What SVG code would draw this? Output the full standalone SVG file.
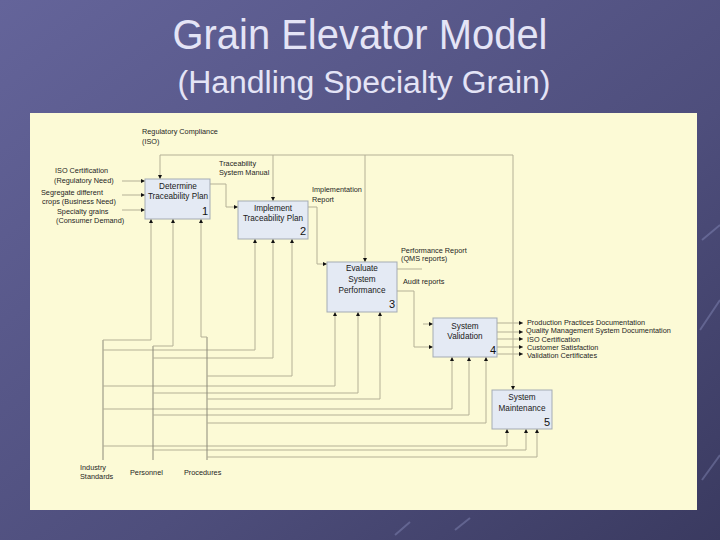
<svg xmlns="http://www.w3.org/2000/svg" width="720" height="540" viewBox="0 0 720 540">
<defs>
<linearGradient id="bg" x1="0" y1="0" x2="1" y2="1">
<stop offset="0" stop-color="#64649a"/>
<stop offset="0.6" stop-color="#4e4e7c"/>
<stop offset="1" stop-color="#3a3a60"/>
</linearGradient>
<marker id="ah" viewBox="0 0 6 6" refX="6" refY="3" markerWidth="4" markerHeight="4" markerUnits="userSpaceOnUse" orient="auto">
<path d="M0,0 L6,3 L0,6 z" fill="#111"/>
</marker>
</defs>
<style>
.title{font-family:"Liberation Sans",Arial,sans-serif;fill:#e4e4f6}
.lbl{font-family:"Liberation Sans",Arial,sans-serif;font-size:7.3px;fill:#1e1e1e}
.bt{font-family:"Liberation Sans",Arial,sans-serif;font-size:8.2px;fill:#202020;text-anchor:middle}
.num{font-family:"Liberation Sans",Arial,sans-serif;font-size:11px;fill:#111;text-anchor:end}
.box{fill:#e4eaf4;stroke:#a4abb4;stroke-width:1}
.c{fill:none;stroke:#b4b096;stroke-width:1}
.m{fill:none;stroke:#8c8a7a;stroke-width:1}
.a{marker-end:url(#ah)}
</style>
<rect x="0" y="0" width="720" height="540" fill="url(#bg)"/>
<g opacity="0.35" stroke="#9aa0d0" stroke-width="2" fill="none">
<path d="M702,240 L720,225"/>
<path d="M700,330 L720,300"/>
<path d="M702,480 L720,455"/>
<path d="M395,535 L410,522"/>
<path d="M455,530 L470,518"/>
</g>
<text class="title" x="360" y="49" font-size="42" text-anchor="middle" textLength="375" lengthAdjust="spacingAndGlyphs">Grain Elevator Model</text>
<text class="title" x="364" y="93" font-size="31" text-anchor="middle" textLength="373" lengthAdjust="spacingAndGlyphs">(Handling Specialty Grain)</text>
<rect x="30" y="113" width="667" height="397" fill="#fcfad6"/>

<g id="connectors">
<!-- controls: Regulatory Compliance -->
<path class="c" d="M160,155 H513"/>
<path class="c a" d="M160,155 V179"/>
<path class="c a" d="M273,155 V201"/>
<path class="c a" d="M365,155 V262"/>
<path class="c a" d="M513,155 V390"/>
<!-- inputs box1 -->
<path class="c a" d="M122,181 H145"/>
<path class="c a" d="M122,195 H145"/>
<path class="c a" d="M122,210 H145"/>
<!-- box1 to box2 -->
<path class="c a" d="M210,184 H226 V207 H238"/>
<!-- box2 to box3 -->
<path class="c a" d="M308,207 H317 V264 H327"/>
<!-- box3 outputs -->
<path class="c" d="M397,269 H422"/>
<path class="c a" d="M397,291 H414 V347 H433"/>
<path class="c a" d="M423,324 H433"/>
<!-- box4 outputs -->
<path class="c a" d="M497,323 H523"/>
<path class="c a" d="M497,332 H523"/>
<path class="c a" d="M497,339 H523"/>
<path class="c a" d="M497,347 H523"/>
<path class="c a" d="M497,354 H523"/>
<!-- mechanisms: Industry Standards -->
<path class="m" d="M103,460 V340"/>
<path class="c a" d="M103,340 H151 V219"/>
<path class="c a" d="M103,350 H255 V239"/>
<path class="c a" d="M103,386 H335 V312"/>
<path class="c a" d="M103,409 H452 V357"/>
<path class="c a" d="M103,446 H507 V429"/>
<!-- Personnel -->
<path class="m" d="M153,460 V346"/>
<path class="c a" d="M153,346 H173 V219"/>
<path class="c a" d="M153,358 H273 V239"/>
<path class="c a" d="M153,393 H358 V312"/>
<path class="c a" d="M153,415 H469 V357"/>
<path class="c a" d="M153,450 H526 V429"/>
<!-- Procedures -->
<path class="m" d="M207,460 V337"/>
<path class="c a" d="M207,337 H201 V219"/>
<path class="c a" d="M207,376 H292 V239"/>
<path class="c a" d="M207,399 H380 V312"/>
<path class="c a" d="M207,423 H486 V357"/>
<path class="c a" d="M207,457 H537 V429"/>
</g>

<g id="box1">
<rect class="box" x="145" y="179" width="65" height="40"/>
<text class="bt" x="178" y="189">Determine</text>
<text class="bt" x="178" y="199">Traceability Plan</text>
<text class="num" x="208" y="215">1</text>
</g>
<g id="box2">
<rect class="box" x="238" y="201" width="70" height="38"/>
<text class="bt" x="273" y="211">Implement</text>
<text class="bt" x="273" y="221">Traceability Plan</text>
<text class="num" x="306" y="235">2</text>
</g>
<g id="box3">
<rect class="box" x="327" y="262" width="70" height="50"/>
<text class="bt" x="362" y="271">Evaluate</text>
<text class="bt" x="362" y="282">System</text>
<text class="bt" x="362" y="293">Performance</text>
<text class="num" x="395" y="308">3</text>
</g>
<g id="box4">
<rect class="box" x="433" y="318" width="64" height="39"/>
<text class="bt" x="465" y="329">System</text>
<text class="bt" x="465" y="339">Validation</text>
<text class="num" x="496" y="354">4</text>
</g>
<g id="box5">
<rect class="box" x="492" y="390" width="60" height="39"/>
<text class="bt" x="522" y="400">System</text>
<text class="bt" x="522" y="411">Maintenance</text>
<text class="num" x="550" y="426">5</text>
</g>

<g id="labels">
<text class="lbl" x="142" y="134">Regulatory Compliance</text>
<text class="lbl" x="142" y="144">(ISO)</text>
<text class="lbl" x="219" y="166">Traceability</text>
<text class="lbl" x="219" y="175">System Manual</text>
<text class="lbl" x="55" y="173">ISO Certification</text>
<text class="lbl" x="54" y="183">(Regulatory Need)</text>
<text class="lbl" x="41" y="195">Segregate different</text>
<text class="lbl" x="42" y="204">crops (Business Need)</text>
<text class="lbl" x="57" y="214">Specialty grains</text>
<text class="lbl" x="56" y="223">(Consumer Demand)</text>
<text class="lbl" x="312" y="192">Implementation</text>
<text class="lbl" x="312" y="202">Report</text>
<text class="lbl" x="401" y="253">Performance Report</text>
<text class="lbl" x="401" y="261">(QMS reports)</text>
<text class="lbl" x="403" y="284">Audit reports</text>
<text class="lbl" x="527" y="325">Production Practices Documentation</text>
<text class="lbl" x="526" y="333">Quality Management System Documentation</text>
<text class="lbl" x="527" y="342">ISO Certification</text>
<text class="lbl" x="527" y="350">Customer Satisfaction</text>
<text class="lbl" x="527" y="358">Validation Certificates</text>
<text class="lbl" x="80" y="470">Industry</text>
<text class="lbl" x="80" y="479">Standards</text>
<text class="lbl" x="130" y="475">Personnel</text>
<text class="lbl" x="184" y="475">Procedures</text>
</g>
</svg>
